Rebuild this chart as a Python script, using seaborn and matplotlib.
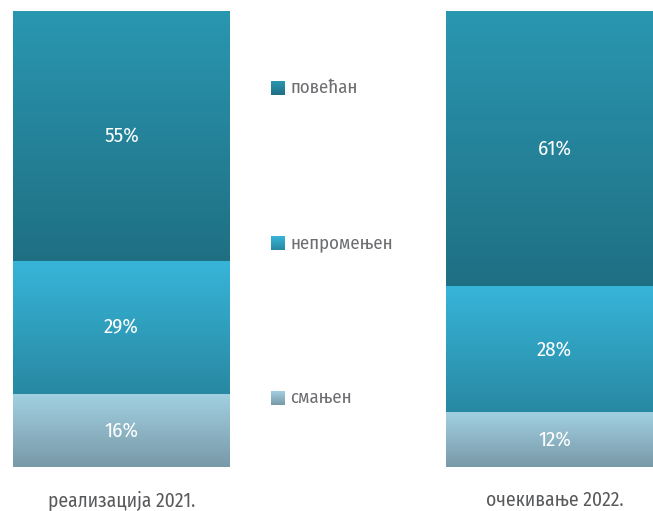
"""Stacked 100% bars with gradient fills: realizacija 2021 vs očekivanje 2022."""
import matplotlib
matplotlib.use("Agg")
import matplotlib.pyplot as plt
import numpy as np
import seaborn as sns
from matplotlib.colors import LinearSegmentedColormap

categories = ["реализација 2021.", "очекивање 2022."]
series = ["смањен", "непромењен", "повећан"]
smanjen = [16, 12]
nepromenjen = [29, 28]
povecan = [55, 61]

# gradient (top, bottom) per series
grad = {
    "смањен": ("#a2d0e1", "#7899a8"),
    "непромењен": ("#37b5d9", "#2888a2"),
    "повећан": ("#2a97b1", "#1f6f83"),
}

FONT = ["Fira Sans Condensed", "DejaVu Sans Condensed", "DejaVu Sans"]

sns.set_theme(style="white")
plt.rcParams["font.family"] = FONT

values = np.array([smanjen, nepromenjen, povecan], dtype=float)
shares = values / values.sum(axis=0) * 100
tops = np.cumsum(shares, axis=0)
bottoms = tops - shares

fig = plt.figure(figsize=(6.53, 5.11), dpi=100)
ax = fig.add_axes([0, 44 / 511, 1, 456 / 511])

# draw from tallest to shortest so every cumulative bar is visible
layers = []
for i in reversed(range(len(series))):
    n0 = len(ax.patches)
    sns.barplot(x=categories, y=tops[i], width=0.5, color=grad[series[i]][0],
                ax=ax, errorbar=None)
    layers.append((i, ax.patches[n0:]))

for i, patches in layers:
    cmap = LinearSegmentedColormap.from_list(series[i], grad[series[i]])
    for j, p in enumerate(patches):
        x0, x1 = p.get_x(), p.get_x() + p.get_width()
        y0, y1 = bottoms[i, j], tops[i, j]
        p.set_visible(False)
        ax.imshow(np.linspace(0, 1, 256).reshape(-1, 1), cmap=cmap, aspect="auto",
                  extent=[x0, x1, y0, y1], origin="upper", zorder=2)
        ax.text(x0 + p.get_width() / 2, (y0 + y1) / 2, f"{int(values[i, j])}%",
                ha="center", va="center", color="white", fontsize=15, zorder=3)

ax.set_xlim(-121.5 / 433, (653 - 121.5) / 433)
ax.set_ylim(0, 100)
ax.set_yticks([])
ax.tick_params(axis="x", length=0, pad=17, labelsize=14, labelcolor="#58595b")
for s in ax.spines.values():
    s.set_visible(False)
ax.set_facecolor("white")

# legend in the gap between bars
leg_y = {"повећан": 88, "непромењен": 243, "смањен": 398}
for name in series:
    yc = 1 - leg_y[name] / 511
    sq = fig.add_axes([271 / 653, yc - 7 / 511, 14 / 653, 14 / 511])
    sq.imshow(np.linspace(0, 1, 64).reshape(-1, 1), aspect="auto",
              cmap=LinearSegmentedColormap.from_list(name, grad[name]))
    sq.axis("off")
    fig.text(290 / 653, yc, name, ha="left", va="center", fontsize=13.5,
             color="#6d6e71")

fig.savefig("out.png", dpi=100)
